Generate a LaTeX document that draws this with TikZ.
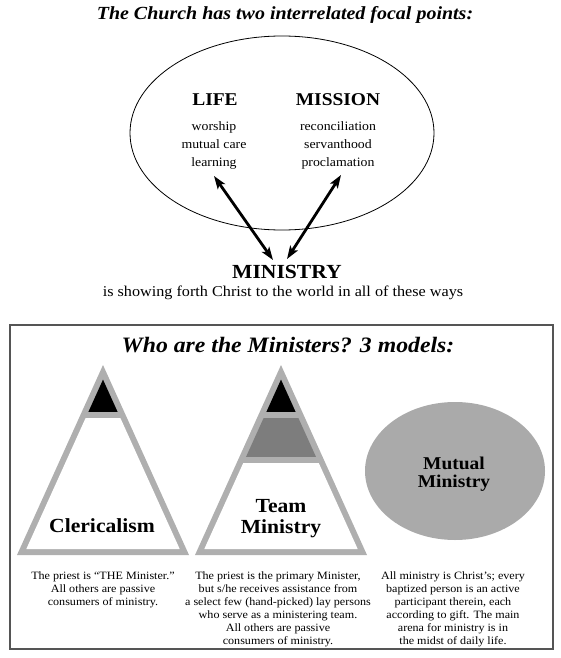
\documentclass[tikz,border=0pt]{standalone}
\usepackage{fontspec}
\setmainfont{Liberation Serif}[FakeStretch=1.08]
\usetikzlibrary{arrows.meta,shapes.geometric}
\definecolor{bandgray}{RGB}{175,175,175}
\definecolor{midgray}{RGB}{125,125,125}
\definecolor{ovalgray}{RGB}{170,170,170}
\definecolor{boxgray}{RGB}{85,85,85}
\begin{document}
\begin{tikzpicture}[x=1pt,y=-1pt,
  titletext/.style={font=\bfseries\itshape\fontsize{#1}{#1}\selectfont},
  headtext/.style={font=\bfseries\fontsize{#1}{20}\selectfont},
  itemtext/.style={font=\fontsize{12.8}{18}\selectfont, align=center},
  labeltext/.style={font=\bfseries\fontsize{#1}{#1}\selectfont, align=center},
  desctext/.style={font=\fontsize{11.2}{13}\selectfont, align=center, anchor=north},
  twohead/.style={line width=2.8pt, {Stealth[length=13pt,width=9pt,inset=3pt]}-{Stealth[length=13pt,width=9pt,inset=3pt]}}
]
\useasboundingbox (0,0) rectangle (561,658);

% ---------- upper part ----------
\node[titletext=18.5] (title) at (285,15) {The Church has two interrelated focal points:};
\node[draw, line width=0.8pt, ellipse, minimum width=304pt, minimum height=194pt] (focal) at (282,133) {};

\node[headtext=18] (life) at (215,100) {LIFE};
\node[headtext=18] (mission) at (338,100) {MISSION};
\node[itemtext] (lifeitems) at (214,145) {worship\\mutual care\\learning};
\node[itemtext] (missionitems) at (338,145) {reconciliation\\servanthood\\proclamation};

\coordinate (la) at (214,176);
\coordinate (lb) at (273,260);
\coordinate (ra) at (341,175);
\coordinate (rb) at (287,259);
\draw[twohead] (la) -- (lb);
\draw[twohead] (ra) -- (rb);

\node[headtext=20] (ministry) at (287,272) {MINISTRY};
\node[font=\fontsize{15}{18}\selectfont] (showing) at (283,293) {is showing forth Christ to the world in all of these ways};

% ---------- lower box ----------
\draw[boxgray, line width=1.6pt] (10,325) rectangle (553,649);
\node[titletext=22] (who) at (288,345) {Who are the Ministers? 3 models:};

% Clericalism pyramid
\fill[bandgray] (103,365) -- (189,555) -- (17,555) -- cycle;
\begin{scope}
  \clip (103,379.6) -- (179.7,549) -- (26.3,549) -- cycle;
  \fill[black] (0,370) rectangle (561,412);
  \fill[white] (0,418) rectangle (561,560);
\end{scope}
\node[labeltext=20] (cler) at (102,526) {Clericalism};

% Team ministry pyramid
\fill[bandgray] (281,365) -- (367,555) -- (195,555) -- cycle;
\begin{scope}
  \clip (281,379.6) -- (357.7,549) -- (204.3,549) -- cycle;
  \fill[black] (0,370) rectangle (561,412);
  \fill[midgray] (0,418) rectangle (561,457);
  \fill[white] (0,463) rectangle (561,560);
\end{scope}
\node[labeltext=20] (team) at (281,519) {Team\\[1pt]Ministry};

% Mutual ministry oval
\fill[ovalgray] (455,471) ellipse [x radius=90, y radius=69];
\node[labeltext=18] (mutual) at (454,474) {Mutual\\[0pt]Ministry};

% descriptions
\node[desctext] (d1) at (103,568) {The priest is “THE Minister.”\\All others are passive\\consumers of ministry.};
\node[desctext] (d2) at (278,568) {The priest is the primary Minister,\\but s/he receives assistance from\\a select few (hand-picked) lay persons\\who serve as a ministering team.\\All others are passive\\consumers of ministry.};
\node[desctext] (d3) at (453,568) {All ministry is Christ's; every\\baptized person is an active\\participant therein, each\\according to gift. The main\\arena for ministry is in\\the midst of daily life.};
\end{tikzpicture}
\end{document}
